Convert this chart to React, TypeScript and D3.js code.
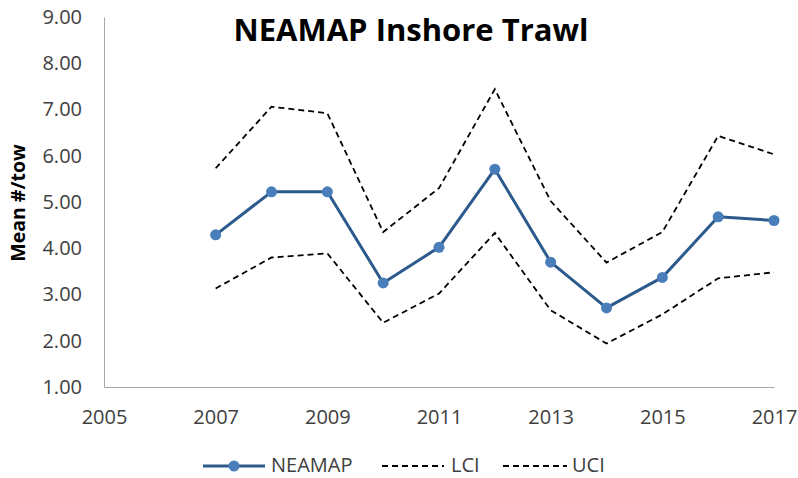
import React, { useEffect, useRef } from 'react';
import * as d3 from 'd3';

const years = [2007, 2008, 2009, 2010, 2011, 2012, 2013, 2014, 2015, 2016, 2017];
const neamap = [4.29, 5.22, 5.22, 3.25, 4.02, 5.71, 3.70, 2.71, 3.37, 4.68, 4.60];
const lci = [3.13, 3.80, 3.89, 2.39, 3.02, 4.33, 2.66, 1.94, 2.57, 3.35, 3.48];
const uci = [5.73, 7.06, 6.92, 4.35, 5.30, 7.44, 5.02, 3.69, 4.35, 6.43, 6.03];
const xTicks = [2005, 2007, 2009, 2011, 2013, 2015, 2017];
const yTicks = [1, 2, 3, 4, 5, 6, 7, 8, 9];

const W = 798;
const H = 478;
const FONT = "'Open Sans', 'Noto Sans', sans-serif";
const LINE_BLUE = '#2C5A8C';
const DOT_BLUE = '#4A7EBB';

export default function App() {
  const ref = useRef<SVGSVGElement | null>(null);

  useEffect(() => {
    if (!ref.current) return;
    const svg = d3.select(ref.current);
    svg.selectAll('*').remove();

    const x = d3.scaleLinear().domain([2005, 2017]).range([104, 774]);
    const y = d3.scaleLinear().domain([1, 9]).range([387, 17]);

    // axes (labels only, Excel style)
    const gx = svg.append('g')
      .attr('transform', `translate(0,${y(1)})`)
      .call(d3.axisBottom(x).tickValues(xTicks).tickFormat(d3.format('d')).tickSize(0).tickPadding(23));
    gx.select('.domain').attr('stroke', '#A6A6A6').attr('stroke-width', 1);
    gx.selectAll('text').style('font-family', FONT).style('font-size', '20px').attr('fill', '#404040');

    const gy = svg.append('g')
      .attr('transform', `translate(${x(2005)},0)`)
      .call(d3.axisLeft(y).tickValues(yTicks).tickFormat(d3.format('.2f')).tickSize(0).tickPadding(22));
    gy.select('.domain').attr('stroke', '#A6A6A6').attr('stroke-width', 1);
    gy.selectAll('text').style('font-family', FONT).style('font-size', '20px').attr('fill', '#404040');

    const line = d3.line<number>()
      .x((_, i) => x(years[i]))
      .y(d => y(d));

    [uci, lci].forEach(series => {
      svg.append('path')
        .datum(series)
        .attr('d', line)
        .attr('fill', 'none')
        .attr('stroke', '#000')
        .attr('stroke-width', 1.8)
        .attr('stroke-dasharray', '6,4');
    });

    svg.append('path')
      .datum(neamap)
      .attr('d', line)
      .attr('fill', 'none')
      .attr('stroke', LINE_BLUE)
      .attr('stroke-width', 3)
      .attr('stroke-linejoin', 'round');

    svg.selectAll('circle.pt')
      .data(neamap)
      .enter()
      .append('circle')
      .attr('class', 'pt')
      .attr('cx', (_, i) => x(years[i]))
      .attr('cy', d => y(d))
      .attr('r', 5.5)
      .attr('fill', DOT_BLUE);

    // title
    svg.append('text')
      .attr('x', 411)
      .attr('y', 41)
      .attr('text-anchor', 'middle')
      .style('font-family', FONT)
      .style('font-weight', 'bold')
      .style('font-size', '31px')
      .attr('fill', '#000')
      .text('NEAMAP Inshore Trawl');

    // y axis title
    svg.append('text')
      .attr('transform', 'translate(25,203) rotate(-90)')
      .attr('text-anchor', 'middle')
      .style('font-family', FONT)
      .style('font-weight', 'bold')
      .style('font-size', '19.5px')
      .attr('fill', '#000')
      .text('Mean #/tow');

    // legend
    const ly = 466;
    const leg = svg.append('g');
    leg.append('line').attr('x1', 203).attr('x2', 265).attr('y1', ly).attr('y2', ly)
      .attr('stroke', LINE_BLUE).attr('stroke-width', 3);
    leg.append('circle').attr('cx', 234).attr('cy', ly).attr('r', 5.5).attr('fill', DOT_BLUE);
    leg.append('line').attr('x1', 382).attr('x2', 444).attr('y1', ly).attr('y2', ly)
      .attr('stroke', '#000').attr('stroke-width', 1.8).attr('stroke-dasharray', '6,4');
    leg.append('line').attr('x1', 503).attr('x2', 567).attr('y1', ly).attr('y2', ly)
      .attr('stroke', '#000').attr('stroke-width', 1.8).attr('stroke-dasharray', '6,4');
    const labels: [number, string][] = [[271, 'NEAMAP'], [451, 'LCI'], [572, 'UCI']];
    labels.forEach(([lx, t]) => {
      leg.append('text')
        .attr('x', lx)
        .attr('y', ly + 6)
        .style('font-family', FONT)
        .style('font-size', '20px')
        .attr('fill', '#404040')
        .text(t);
    });
  }, []);

  return (
    <svg
      ref={ref}
      width={W}
      height={H}
      style={{ position: 'absolute', left: 0, top: 0, background: '#fff' }}
    />
  );
}
